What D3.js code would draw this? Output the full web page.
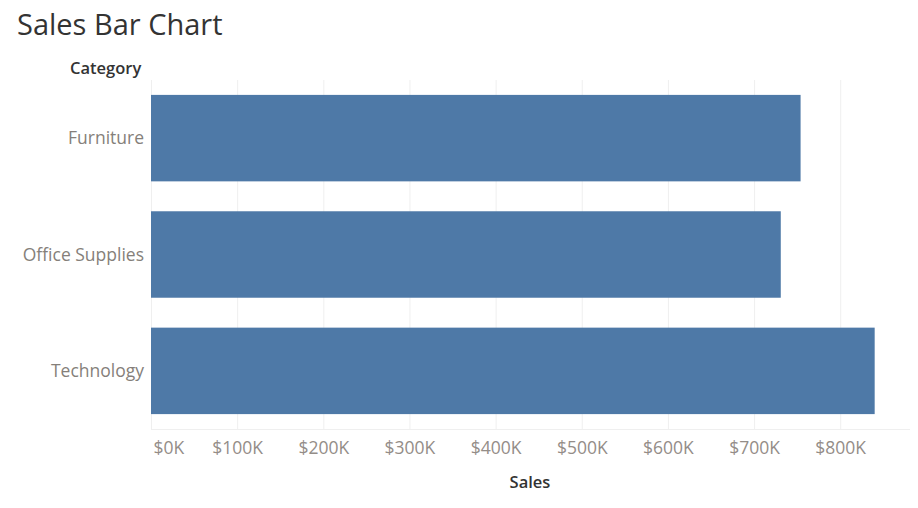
<!DOCTYPE html>
<html>
<head>
<meta charset="utf-8">
<script src="https://cdn.jsdelivr.net/npm/d3@7"></script>
<style>
  body { margin: 0; background: #fff; }
  text { font-family: "Open Sans", "Noto Sans", sans-serif; }
</style>
</head>
<body>
<svg id="chart"></svg>
<script>
var categories = ["Furniture", "Office Supplies", "Technology"];
var sales = [754000, 731000, 840000];
var ticks = [0, 100000, 200000, 300000, 400000, 500000, 600000, 700000, 800000];

var W = 918, H = 508;
var margin = { top: 80, right: 8, bottom: 79, left: 151 };
var w = W - margin.left - margin.right,
    h = H - margin.top - margin.bottom;

var svg = d3.select("#chart")
  .attr("width", W)
  .attr("height", H);

// title and header
svg.append("text")
  .attr("x", 17)
  .attr("y", 35)
  .style("font-size", "29px")
  .style("fill", "#333")
  .text("Sales Bar Chart");

svg.append("text")
  .attr("x", 70)
  .attr("y", 74)
  .style("font-size", "16.5px")
  .style("font-weight", "600")
  .style("fill", "#333")
  .text("Category");

var x = d3.scaleLinear()
  .domain([0, 881000])
  .range([0, w]);

var y = d3.scaleBand()
  .domain(categories)
  .range([0, h])
  .paddingInner(0.257)
  .paddingOuter(0.128);

var g = svg.append("g")
  .attr("transform", "translate(" + margin.left + "," + margin.top + ")");

// gridlines
g.selectAll("line.grid")
  .data(ticks)
  .enter().append("line")
  .attr("class", "grid")
  .attr("x1", function(d) { return x(d) + 0.5; })
  .attr("x2", function(d) { return x(d) + 0.5; })
  .attr("y1", 0)
  .attr("y2", h)
  .style("stroke", "#efefef")
  .style("stroke-width", "1px");

g.append("line")
  .attr("x1", 0)
  .attr("x2", w)
  .attr("y1", h + 0.5)
  .attr("y2", h + 0.5)
  .style("stroke", "#efefef");

// bars
g.selectAll("rect.bar")
  .data(categories)
  .enter().append("rect")
  .attr("class", "bar")
  .attr("x", 0)
  .attr("y", function(d) { return y(d); })
  .attr("width", function(d, i) { return x(sales[i]); })
  .attr("height", y.bandwidth())
  .style("fill", "#4e79a7");

// category labels
g.selectAll("text.cat")
  .data(categories)
  .enter().append("text")
  .attr("class", "cat")
  .attr("x", -7)
  .attr("y", function(d) { return y(d) + y.bandwidth() / 2; })
  .attr("dy", "0.35em")
  .style("text-anchor", "end")
  .style("font-size", "17.5px")
  .style("fill", "#857f7a")
  .text(function(d) { return d; });

// x axis labels
var fmt = function(d) { return "$" + (d / 1000) + "K"; };

var xAxis = d3.axisBottom(x)
  .tickValues(ticks)
  .tickFormat(fmt)
  .tickSize(0)
  .tickPadding(13);

var ax = g.append("g")
  .attr("transform", "translate(0," + h + ")")
  .call(xAxis);

ax.select(".domain").remove();
ax.selectAll("text")
  .style("font-family", "\"Open Sans\", \"Noto Sans\", sans-serif")
  .style("font-size", "17.5px")
  .style("fill", "#948d88")
  .style("text-anchor", function(d) { return d === 0 ? "start" : "middle"; })
  .attr("dx", function(d) { return d === 0 ? "2" : "0"; });

svg.append("text")
  .attr("x", 530)
  .attr("y", 488)
  .style("text-anchor", "middle")
  .style("font-size", "16.5px")
  .style("font-weight", "600")
  .style("fill", "#333")
  .text("Sales");
</script>
</body>
</html>
